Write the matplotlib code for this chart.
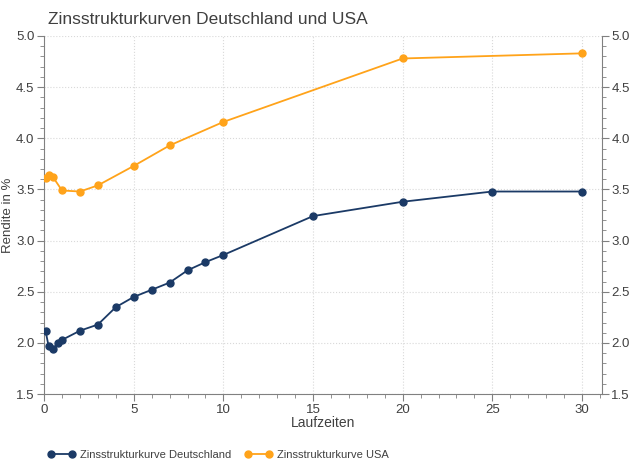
import numpy as np
import matplotlib.pyplot as plt
from matplotlib.ticker import MultipleLocator

plt.rcParams['font.family'] = ['Liberation Sans', 'DejaVu Sans']

# Laufzeiten (Jahre) und Renditen (%)
de_x = [0.08, 0.25, 0.5, 0.75, 1, 2, 3, 4, 5, 6, 7, 8, 9, 10, 15, 20, 25, 30]
de_y = [2.12, 1.97, 1.94, 2.00, 2.03, 2.12, 2.18, 2.35, 2.45, 2.52, 2.59, 2.71, 2.79, 2.86, 3.24, 3.38, 3.48, 3.48]
us_x = [0.08, 0.25, 0.5, 1, 2, 3, 5, 7, 10, 20, 30]
us_y = [3.61, 3.64, 3.62, 3.49, 3.48, 3.54, 3.73, 3.93, 4.16, 4.78, 4.83]

c_de = '#1b3a66'
c_us = '#ffa31a'
txt = '#404040'

fig = plt.figure(figsize=(6.3, 4.61), dpi=100)
ax = fig.add_axes([0.07, 0.145, 0.885, 0.777])

ax.plot(de_x, de_y, color=c_de, marker='o', markersize=5, linewidth=1.3, label='Zinsstrukturkurve Deutschland', zorder=3)
ax.plot(us_x, us_y, color=c_us, marker='o', markersize=5, linewidth=1.3, label='Zinsstrukturkurve USA', zorder=3)

ax.set_xlim(0, 31.1)
ax.set_ylim(1.5, 5.0)
ax.xaxis.set_major_locator(MultipleLocator(5))
ax.xaxis.set_minor_locator(MultipleLocator(1))
ax.yaxis.set_major_locator(MultipleLocator(0.5))
ax.yaxis.set_minor_locator(MultipleLocator(0.1))
ax.yaxis.set_major_formatter(plt.FuncFormatter(lambda v, p: f'{v:.1f}'))
ax.grid(True, which='major', color='#d9d9d9', linestyle=':', linewidth=0.8)

ax.spines['top'].set_visible(False)
for s in ['left', 'right', 'bottom']:
    ax.spines[s].set_color('#808080')
ax.tick_params(which='both', direction='out', colors='#808080', labelcolor=txt, labelsize=9.5,
               left=True, right=True, labelright=True, pad=2)
ax.tick_params(which='major', length=5)
ax.tick_params(which='minor', length=3)

ax.set_xlabel('Laufzeiten', fontsize=10, color=txt, labelpad=0)
ax.set_ylabel('Rendite in %', fontsize=9.5, color=txt)
ax.yaxis.set_label_coords(-0.054, 0.5)
fig.text(0.076, 0.958, 'Zinsstrukturkurven Deutschland und USA', fontsize=12.5, color=txt, va='center')

fig.legend(loc='lower left', bbox_to_anchor=(0.06, -0.02), ncol=2, frameon=False, fontsize=8,
           labelcolor=txt, handlelength=2.5, columnspacing=1.2, handletextpad=0.4, numpoints=2)

fig.savefig('out.png', dpi=100)
